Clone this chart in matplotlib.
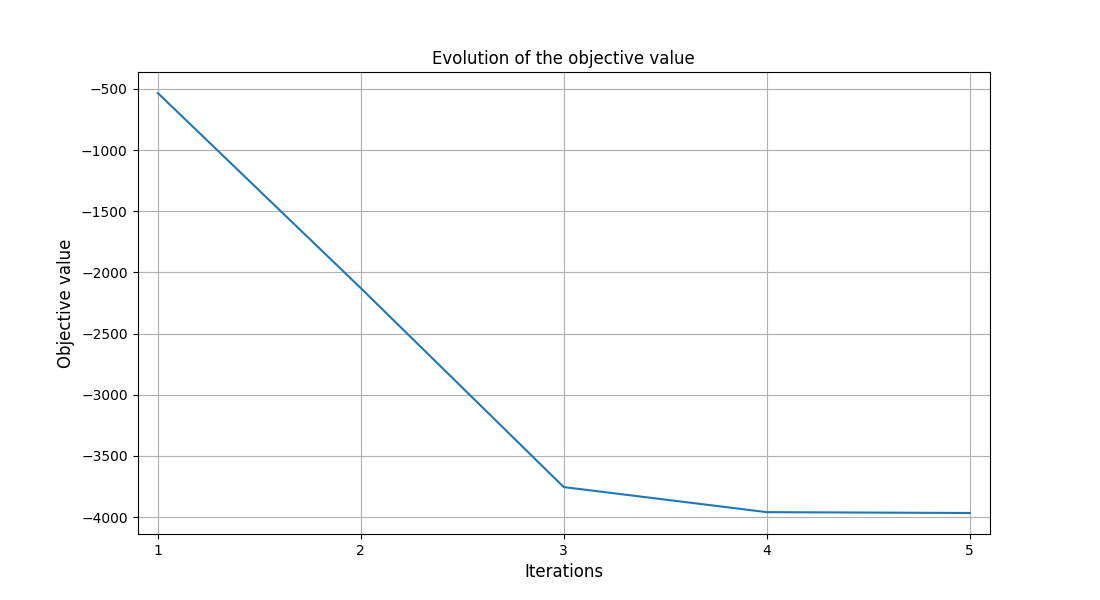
import matplotlib
matplotlib.use('Agg')
import matplotlib.pyplot as plt

# Objective value per iteration
iterations = [1, 2, 3, 4, 5]
objective = [-533, -2128, -3755, -3960, -3967]

fig, ax = plt.subplots(figsize=(11, 6), dpi=100)
ax.plot(iterations, objective)
ax.set_xticks(iterations)
ax.set_xlim(0.9, 5.1)
ax.set_title('Evolution of the objective value')
ax.set_xlabel('Iterations', fontsize=12)
ax.set_ylabel('Objective value', fontsize=12)
ax.grid(True)

plt.savefig('out.png', dpi=100)
